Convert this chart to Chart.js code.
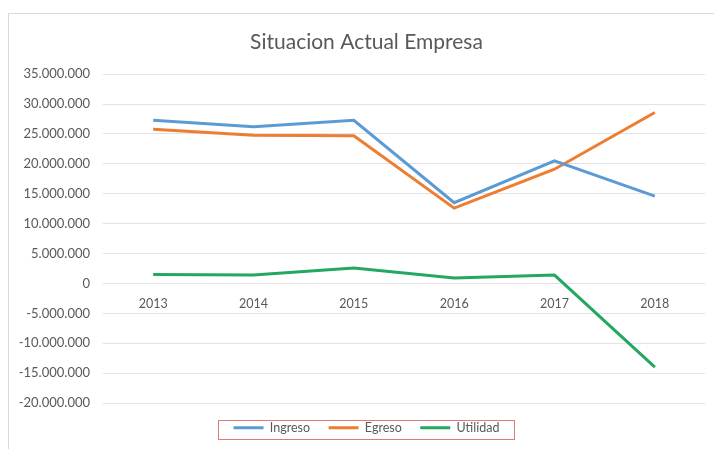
<!DOCTYPE html>
<html>
<head>
<meta charset="utf-8">
<script src="https://cdn.jsdelivr.net/npm/chart.js@4"></script>
<style>
    html, body { margin: 0; padding: 0; background: #ffffff; }
    #wrap { position: relative; width: 714px; height: 449px; }
</style>
</head>
<body>
<div id="wrap"><canvas id="chart"></canvas></div>
<script>
const years = ["2013", "2014", "2015", "2016", "2017", "2018"];
const ingreso = [27300000, 26200000, 27300000, 13500000, 20500000, 14600000];
const egreso = [25800000, 24800000, 24700000, 12600000, 19100000, 28600000];
const utilidad = [1500000, 1400000, 2600000, 900000, 1400000, -14000000];

const textColor = "#595959";
const gridColor = "#e3e3e3";

function formatMiles(v) {
    const s = String(Math.abs(v)).replace(/\B(?=(\d{3})+(?!\d))/g, ".");
    return v < 0 ? "-" + s : s;
}

// marco gris del grafico y recuadro rojo de la leyenda
const marcos = {
    id: "marcos",
    afterLayout(chart) {
        // deja sitio a las etiquetas largas con signo menos
        chart.scales.y.left = 0;
    },
    beforeDraw(chart) {
        const ctx = chart.ctx;
        ctx.save();
        ctx.strokeStyle = "#d9d9d9";
        ctx.lineWidth = 1;
        ctx.strokeRect(8.5, 13.5, 800, 800);
        ctx.restore();
    },
    afterDraw(chart) {
        const boxes = chart.legend.legendHitBoxes;
        if (!boxes || !boxes.length) return;
        const left = Math.min(...boxes.map(b => b.left)) - 16;
        const right = Math.max(...boxes.map(b => b.left + b.width)) + 14;
        const top = Math.min(...boxes.map(b => b.top)) - 2;
        const bottom = Math.max(...boxes.map(b => b.top + b.height)) + 4;
        const ctx = chart.ctx;
        ctx.save();
        ctx.strokeStyle = "#e0797c";
        ctx.lineWidth = 1;
        ctx.strokeRect(Math.round(left) + 0.5, Math.round(top) + 0.5, Math.round(right - left), Math.round(bottom - top));
        ctx.restore();
    }
};

function serie(label, data, color) {
    return {
        label: label,
        data: data,
        borderColor: color,
        backgroundColor: color,
        borderWidth: 3,
        pointRadius: 0,
        tension: 0
    };
}

new Chart(document.getElementById("chart"), {
    type: "line",
    plugins: [marcos],
    data: {
        labels: years,
        datasets: [
            serie("Ingreso", ingreso, "#5b9bd5"),
            serie("Egreso", egreso, "#ed7d31"),
            serie("Utilidad", utilidad, "#24a85f")
        ]
    },
    options: {
        responsive: true,
        maintainAspectRatio: false,
        animation: false,
        layout: { padding: { left: 28, right: 9, top: 0, bottom: 5 } },
        plugins: {
            tooltip: { enabled: false },
            title: {
                display: true,
                text: "Situacion Actual Empresa",
                color: textColor,
                font: { family: "Lato", size: 21, weight: "normal" },
                padding: { top: 30, bottom: 19 }
            },
            legend: {
                position: "bottom",
                labels: {
                    color: textColor,
                    font: { family: "Lato", size: 12.5 },
                    usePointStyle: true,
                    pointStyle: "line",
                    pointStyleWidth: 30,
                    boxHeight: 12,
                    padding: 18.5
                }
            }
        },
        scales: {
            x: {
                position: { y: 0 },
                offset: true,
                grid: { display: false, drawTicks: false },
                border: { display: false },
                ticks: {
                    color: textColor,
                    font: { family: "Lato", size: 12.5 },
                    padding: 13
                }
            },
            y: {
                min: -20000000,
                max: 35000000,
                afterFit(scale) { scale.width = 75; },
                grid: { color: gridColor, drawTicks: false },
                border: { display: false },
                ticks: {
                    stepSize: 5000000,
                    color: textColor,
                    font: { family: "Lato", size: 13 },
                    padding: 13,
                    callback: v => formatMiles(v)
                }
            }
        }
    }
});
</script>
</body>
</html>
